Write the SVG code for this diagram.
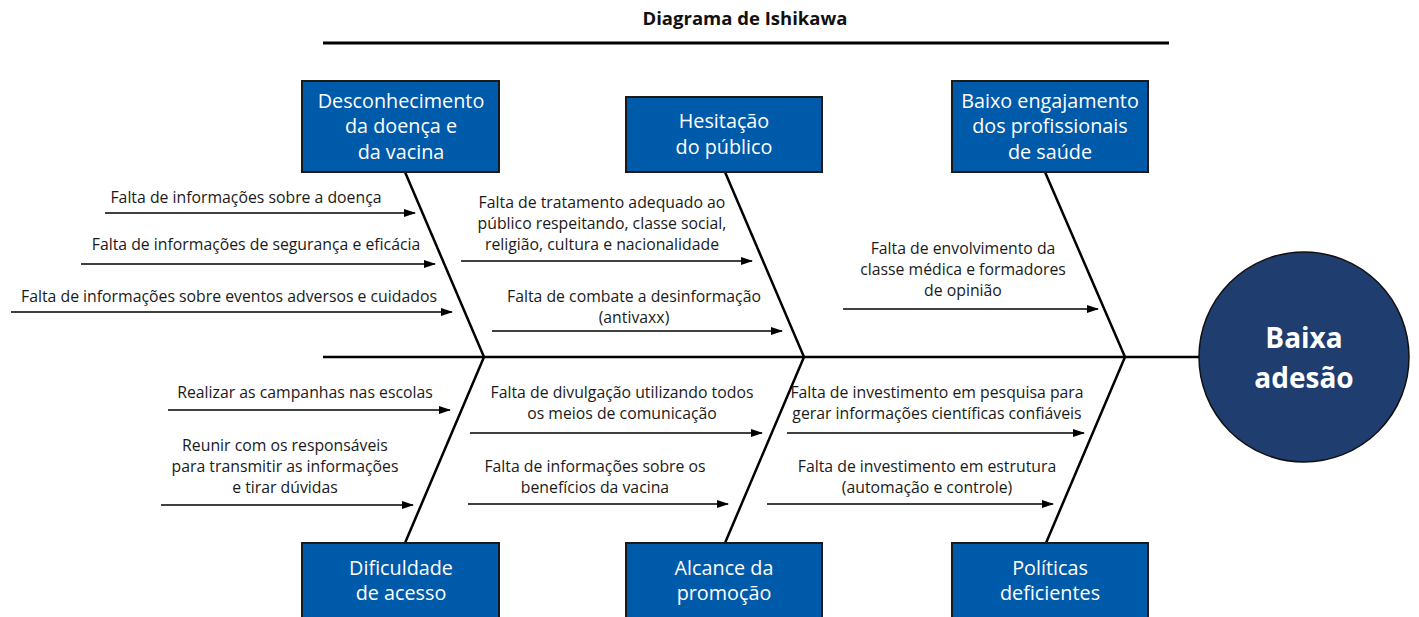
<svg xmlns="http://www.w3.org/2000/svg" width="1419" height="617" viewBox="0 0 1419 617">
<style>
.t{font-family:"Open Sans","Liberation Sans",sans-serif;font-size:15.8px;fill:#1a1a1a;text-anchor:middle}
.bt{font-family:"Open Sans","Liberation Sans",sans-serif;font-size:19.8px;fill:#ffffff;text-anchor:middle}
.box{fill:#005aaa;stroke:#1a1a1a;stroke-width:2}
.bone{stroke:#000;stroke-width:2.5;fill:none}
.arr{stroke:#000;stroke-width:1.5;fill:none;marker-end:url(#ah)}
</style>
<defs>
<marker id="ah" markerWidth="12" markerHeight="8" refX="11" refY="4" orient="auto" markerUnits="userSpaceOnUse">
<path d="M0,0 L12,4 L0,8 Z" fill="#000"/>
</marker>
</defs>
<rect width="1419" height="617" fill="#fff"/>
<g id="title">
<text x="745" y="25" style="font-family:'Open Sans','Liberation Sans',sans-serif;font-size:18.5px;font-weight:bold;fill:#111" text-anchor="middle">Diagrama de Ishikawa</text>
<line x1="323" y1="43" x2="1169" y2="43" stroke="#000" stroke-width="3"/>
</g>
<g id="connectors">
<line class="bone" x1="323" y1="357" x2="1200" y2="357" stroke-width="3"/>
<polyline class="bone" points="405,172 484,357 405,543"/>
<polyline class="bone" points="725,172 804,357 725,543"/>
<polyline class="bone" points="1045,172 1125,357 1046,543"/>
<line class="arr" x1="105" y1="213" x2="415" y2="213"/>
<line class="arr" x1="81" y1="264" x2="435" y2="264"/>
<line class="arr" x1="11" y1="312" x2="452" y2="312"/>
<line class="arr" x1="461" y1="261" x2="752" y2="261"/>
<line class="arr" x1="492" y1="331" x2="782" y2="331"/>
<line class="arr" x1="843" y1="309" x2="1098" y2="309"/>
<line class="arr" x1="168" y1="410" x2="450" y2="410"/>
<line class="arr" x1="161" y1="505" x2="413" y2="505"/>
<line class="arr" x1="470" y1="433" x2="762" y2="433"/>
<line class="arr" x1="468" y1="504" x2="728" y2="504"/>
<line class="arr" x1="787" y1="433" x2="1084" y2="433"/>
<line class="arr" x1="767" y1="504" x2="1053" y2="504"/>
</g>
<g id="labels">
<text class="t" x="246" y="203">Falta de informações sobre a doença</text>
<text class="t" x="256" y="250">Falta de informações de segurança e eficácia</text>
<text class="t" x="229" y="302">Falta de informações sobre eventos adversos e cuidados</text>
<text class="t" x="602" y="208">Falta de tratamento adequado ao</text>
<text class="t" x="602" y="229">público respeitando, classe social,</text>
<text class="t" x="602" y="250">religião, cultura e nacionalidade</text>
<text class="t" x="634" y="302">Falta de combate a desinformação</text>
<text class="t" x="634" y="323">(antivaxx)</text>
<text class="t" x="963" y="254">Falta de envolvimento da</text>
<text class="t" x="963" y="275">classe médica e formadores</text>
<text class="t" x="963" y="296">de opinião</text>
<text class="t" x="305" y="398">Realizar as campanhas nas escolas</text>
<text class="t" x="285" y="451">Reunir com os responsáveis</text>
<text class="t" x="285" y="472">para transmitir as informações</text>
<text class="t" x="285" y="493">e tirar dúvidas</text>
<text class="t" x="622" y="398">Falta de divulgação utilizando todos</text>
<text class="t" x="622" y="419">os meios de comunicação</text>
<text class="t" x="595" y="472">Falta de informações sobre os</text>
<text class="t" x="595" y="493">benefícios da vacina</text>
<text class="t" x="937" y="398">Falta de investimento em pesquisa para</text>
<text class="t" x="937" y="419">gerar informações científicas confiáveis</text>
<text class="t" x="927" y="472">Falta de investimento em estrutura</text>
<text class="t" x="927" y="493">(automação e controle)</text>
</g>
<g id="box-desconhecimento">
<rect class="box" x="302" y="81" width="197" height="91"/>
<text class="bt" x="401" y="108">Desconhecimento</text>
<text class="bt" x="401" y="133">da doença e</text>
<text class="bt" x="401" y="159">da vacina</text>
</g>
<g id="box-hesitacao">
<rect class="box" x="626" y="97" width="196" height="75"/>
<text class="bt" x="724" y="128">Hesitação</text>
<text class="bt" x="724" y="154">do público</text>
</g>
<g id="box-engajamento">
<rect class="box" x="952" y="81" width="196" height="91"/>
<text class="bt" x="1050" y="108">Baixo engajamento</text>
<text class="bt" x="1050" y="133">dos profissionais</text>
<text class="bt" x="1050" y="159">de saúde</text>
</g>
<g id="box-dificuldade">
<rect class="box" x="302" y="543" width="197" height="80"/>
<text class="bt" x="401" y="575">Dificuldade</text>
<text class="bt" x="401" y="600">de acesso</text>
</g>
<g id="box-alcance">
<rect class="box" x="626" y="543" width="196" height="80"/>
<text class="bt" x="724" y="575">Alcance da</text>
<text class="bt" x="724" y="600">promoção</text>
</g>
<g id="box-politicas">
<rect class="box" x="952" y="543" width="196" height="80"/>
<text class="bt" x="1050" y="575">Políticas</text>
<text class="bt" x="1050" y="600">deficientes</text>
</g>
<g id="effect">
<circle cx="1304" cy="357" r="105" fill="#1f3d6e" stroke="#111" stroke-width="1.5"/>
<text x="1304" y="348" text-anchor="middle" style="font-family:'Open Sans','Liberation Sans',sans-serif;font-size:28px;font-weight:bold;fill:#fff">Baixa</text>
<text x="1304" y="388" text-anchor="middle" style="font-family:'Open Sans','Liberation Sans',sans-serif;font-size:28px;font-weight:bold;fill:#fff">adesão</text>
</g>
</svg>
